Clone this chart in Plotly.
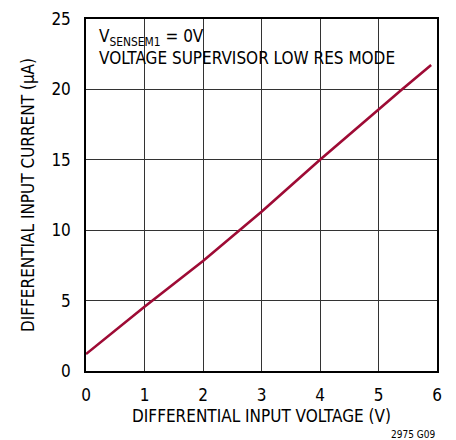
import plotly.graph_objects as go

voltage = [0, 1, 2, 2.615, 3, 4, 5, 5.4, 5.9]
current = [1.2, 4.57, 7.81, 10, 11.31, 15, 18.59, 20, 21.73]

x_ticks = [0, 1, 2, 3, 4, 5, 6]
y_ticks = [0, 5, 10, 15, 20, 25]

FONT = "DejaVu Sans Condensed"

fig = go.Figure()
fig.add_trace(go.Scatter(x=voltage, y=current, mode="lines",
                         line=dict(color="#9e0b35", width=2.6), showlegend=False))

axis_common = dict(showgrid=True, gridcolor="#333333", gridwidth=1, automargin=False,
                   showline=True, linecolor="black", linewidth=1.5, mirror=True,
                   zeroline=False, ticks="", tickfont=dict(family=FONT, size=17, color="black"))

fig.update_xaxes(range=[0, 6], tickvals=x_ticks, ticklabelstandoff=8,
                 title=dict(text="DIFFERENTIAL INPUT VOLTAGE (V)", font=dict(family=FONT, size=17, color="black"), standoff=6),
                 **axis_common)
fig.update_yaxes(range=[0, 25], tickvals=y_ticks, ticklabelstandoff=10,
                 title=dict(text="DIFFERENTIAL INPUT CURRENT (µA)", font=dict(family=FONT, size=17, color="black"), standoff=12),
                 **axis_common)

fig.add_annotation(x=0.03, y=0.985, xref="paper", yref="paper", xanchor="left", yanchor="top",
                   align="left", showarrow=False,
                   text="V<sub>SENSEM1</sub> = 0V<br>VOLTAGE SUPERVISOR LOW RES MODE",
                   font=dict(family=FONT, size=17, color="black"))
fig.add_annotation(x=1.0, y=0, xref="paper", yref="paper", showarrow=False,
                   text="2975 G09", xanchor="right", yanchor="top", yshift=-56,
                   font=dict(family=FONT, size=10, color="black"))

fig.update_layout(width=456, height=440, margin=dict(l=86, r=19, t=19, b=69, autoexpand=False),
                  plot_bgcolor="white", paper_bgcolor="white")

fig.write_html("out.html", config={"displayModeBar": False},
               post_script="document.body.style.margin='0';")
